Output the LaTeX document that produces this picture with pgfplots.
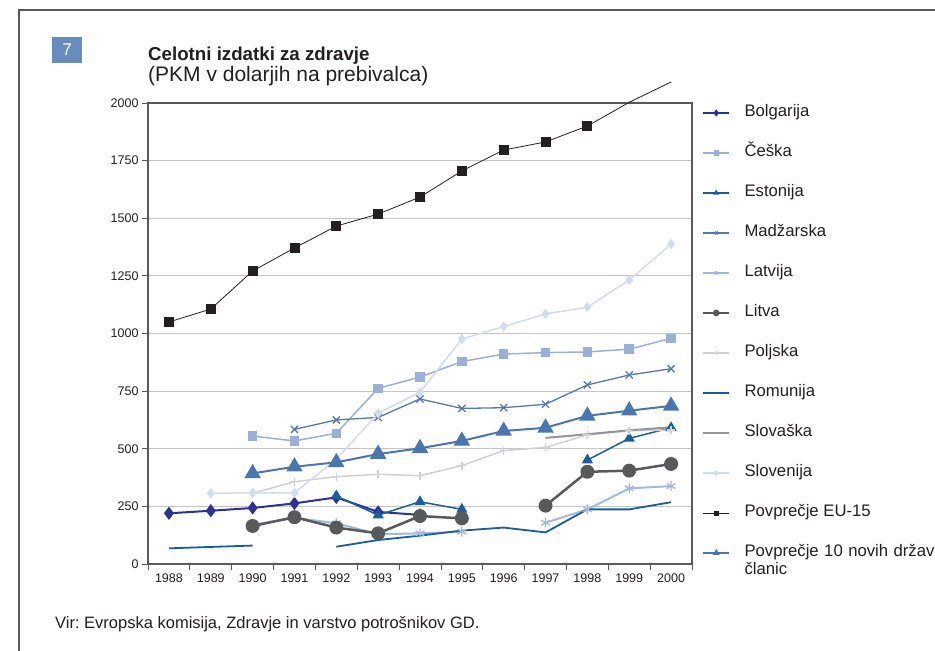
\documentclass[border=0pt]{standalone}
\usepackage{pgfplots}
\pgfplotsset{compat=1.18}
\usepackage{fontspec}
\setmainfont{Liberation Sans}
\frenchspacing
\definecolor{bolg}{HTML}{2E3192}
\definecolor{ceska}{HTML}{9BB0D6}
\definecolor{eston}{HTML}{1B5E9B}
\definecolor{madz}{HTML}{5578B0}
\definecolor{latv}{HTML}{A3B8DE}
\definecolor{litva}{HTML}{58595B}
\definecolor{polj}{HTML}{CFD1D3}
\definecolor{romun}{HTML}{1D5C96}
\definecolor{slovas}{HTML}{939598}
\definecolor{sloven}{HTML}{D3DCEC}
\definecolor{eu}{HTML}{231F20}
\definecolor{novih}{HTML}{4B75AD}
\definecolor{axisgray}{HTML}{58595B}
\definecolor{gridgray}{HTML}{C4C5C7}
\definecolor{boxblue}{HTML}{6A8BBE}
\definecolor{textcol}{HTML}{231F20}
\begin{document}
\begin{tikzpicture}[x=1pt,y=1pt]
\useasboundingbox (0,0) rectangle (935,651);
\draw[axisgray, line width=1.5pt] (19,0) -- (19,641) -- (940,641);
\fill[boxblue] (52,588) rectangle (82,614);
\node[white, font=\fontsize{17}{17}\selectfont] at (67,601) {7};
\node[anchor=base west, inner sep=0pt, text=textcol, font=\bfseries\fontsize{18.7}{20}\selectfont] at (148,590) {Celotni izdatki za zdravje};
\node[anchor=base west, inner sep=0pt, text=textcol, font=\fontsize{21}{22}\selectfont] at (148,569) {(PKM v dolarjih na prebivalca)};
\node[anchor=base west, inner sep=0pt, text=textcol, font=\fontsize{16.5}{18}\selectfont] at (55,23) {Vir: Evropska komisija, Zdravje in varstvo potrošnikov GD.};
\begin{axis}[
  at={(148pt,87pt)}, anchor=south west,
  width=544pt, height=461pt, scale only axis,
  xmin=1987.5, xmax=2000.5, ymin=0, ymax=2000,
  clip=false,
  unbounded coords=jump,
  xtick={1988,1989,1990,1991,1992,1993,1994,1995,1996,1997,1998,1999,2000},
  xticklabels={1988,1989,1990,1991,1992,1993,1994,1995,1996,1997,1998,1999,2000},
  xtick style={draw=none},
  extra x ticks={1987.5,1988.5,1989.5,1990.5,1991.5,1992.5,1993.5,1994.5,1995.5,1996.5,1997.5,1998.5,1999.5,2000.5},
  extra x tick labels={},
  extra x tick style={grid=none, xtick style={draw=axisgray, line width=0.8pt}},
  ytick={0,250,500,750,1000,1250,1500,1750,2000},
  yticklabels={0,250,500,750,1000,1250,1500,1750,2000},
  ytick style={draw=axisgray, line width=0.8pt},
  ymajorgrids, grid style={gridgray, line width=1pt},
  axis line style={axisgray, line width=1.2pt},
  tick align=outside, tick pos=left, major tick length=6pt,
  ticklabel style={font=\fontsize{12.5}{13}\selectfont, text=textcol},
  legend style={at={(axis description cs:1.0184,0.9957)}, anchor=north west, draw=none, fill=none,
    inner sep=0pt, outer sep=0pt, row sep=24pt, column sep=14pt,
    font=\fontsize{16.7}{17}\selectfont, text=textcol,
    nodes={inner sep=0pt, text height=12pt, text depth=4pt}},
  legend cell align=left,
  legend image code/.code={\draw[#1, mark indices={2}, mark size=2pt] plot coordinates {(0pt,0pt) (13pt,0pt) (26pt,0pt)};},
]
% Bolgarija
\addplot[bolg, line width=2pt, mark=diamond*, mark size=5pt, mark options={solid, fill=bolg}] coordinates {
(1988,220) (1989,231) (1990,243) (1991,263) (1992,289) (1993,226) (1994,213)};
\addlegendentry{Bolgarija}
% Ceska
\addplot[ceska, line width=1.5pt, mark=square*, mark size=4pt, mark options={solid, fill=ceska}] coordinates {
(1990,555) (1991,534) (1992,567) (1993,762) (1994,811) (1995,878) (1996,911) (1997,917) (1998,920) (1999,932) (2000,979)};
\addlegendentry{Češka}
% Estonija
\addplot[eston, line width=1.5pt, mark=triangle*, mark size=5pt, mark options={solid, fill=eston}] coordinates {
(1992,295) (1993,212) (1994,270) (1995,237) (1996,nan) (1997,nan) (1998,451) (1999,545) (2000,591)};
\addlegendentry{Estonija}
% Madzarska
\addplot[madz, line width=1.3pt, mark=x, mark size=5pt, mark options={solid}] coordinates {
(1991,584) (1992,625) (1993,636) (1994,716) (1995,675) (1996,678) (1997,693) (1998,777) (1999,820) (2000,847)};
\addlegendentry{Madžarska}
% Latvija
\addplot[latv, line width=2pt, mark=asterisk, mark size=5pt, mark options={solid, line width=1.3pt}] coordinates {
(1990,170) (1991,200) (1992,177) (1993,129) (1994,133) (1995,140) (1996,nan) (1997,179) (1998,237) (1999,328) (2000,338)};
\addlegendentry{Latvija}
% Litva
\addplot[litva, line width=2.5pt, mark=*, mark size=5.7pt, mark options={solid, fill=litva}] coordinates {
(1990,165) (1991,203) (1992,158) (1993,133) (1994,208) (1995,198) (1996,nan) (1997,253) (1998,400) (1999,405) (2000,434)};
\addlegendentry{Litva}
% Poljska
\addplot[polj, line width=1.5pt, mark=+, mark size=4pt, mark options={solid}] coordinates {
(1990,307) (1991,357) (1992,379) (1993,389) (1994,383) (1995,427) (1996,492) (1997,506) (1998,560) (1999,578) (2000,581)};
\addlegendentry{Poljska}
% Romunija
\addplot[romun, line width=1.8pt, mark=none] coordinates {
(1988,68) (1989,74) (1990,80) (1991,nan) (1992,75) (1993,104) (1994,123) (1995,145) (1996,158) (1997,137) (1998,237) (1999,237) (2000,268)};
\addlegendentry{Romunija}
% Slovaska
\addplot[slovas, line width=2pt, mark=none] coordinates {
(1997,547) (1998,563) (1999,580) (2000,593)};
\addlegendentry{Slovaška}
% Slovenija
\addplot[sloven, line width=1.5pt, mark=diamond*, mark size=4pt, mark options={solid, fill=sloven}] coordinates {
(1989,307) (1990,309) (1991,309) (1992,454) (1993,654) (1994,745) (1995,976) (1996,1030) (1997,1085) (1998,1114) (1999,1232) (2000,1388)};
\addlegendentry{Slovenija}
% EU-15
\addplot[eu, line width=0.8pt, mark=square*, mark size=4.5pt, mark indices={1,2,3,4,5,6,7,8,9,10,11}, mark options={solid, fill=eu}] coordinates {
(1988,1050) (1989,1106) (1990,1271) (1991,1371) (1992,1466) (1993,1518) (1994,1592) (1995,1705) (1996,1796) (1997,1831) (1998,1900) (1999,2003) (2000,2091)};
\addlegendentry{Povprečje EU-15}
% Povprecje 10 novih
\addplot[novih, line width=2pt, mark=triangle*, mark size=7.5pt, mark options={solid, fill=novih}] coordinates {
(1990,393) (1991,422) (1992,441) (1993,477) (1994,502) (1995,534) (1996,577) (1997,591) (1998,643) (1999,665) (2000,686)};
\addlegendentry{\begin{tabular}[t]{@{}l@{}}\makebox[190pt][s]{Povprečje 10 novih držav}\\članic\end{tabular}}
\end{axis}
\end{tikzpicture}
\end{document}
